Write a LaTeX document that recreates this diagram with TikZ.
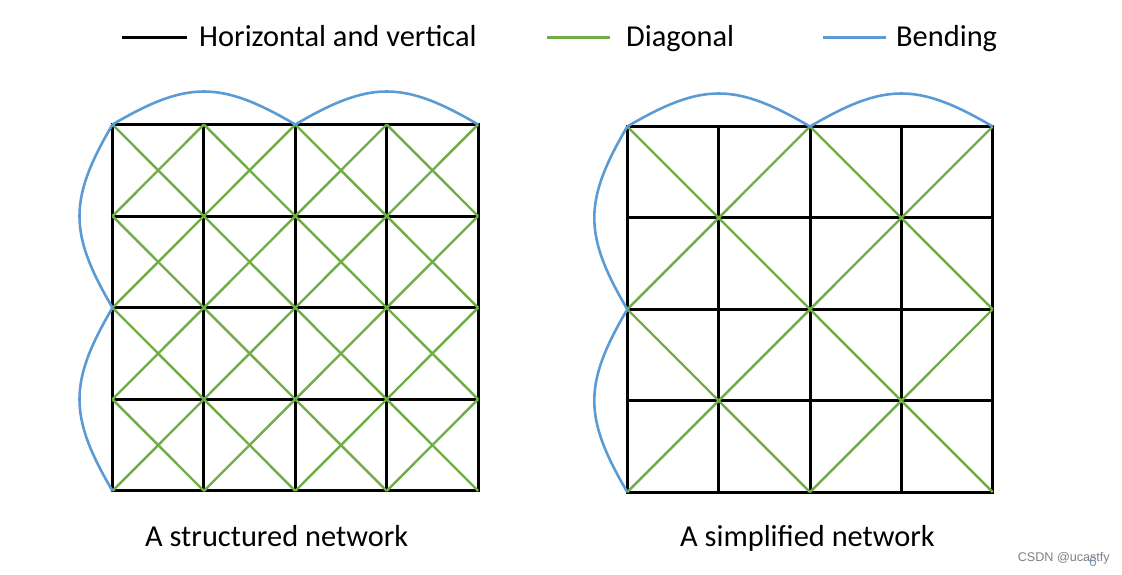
\documentclass[tikz,border=0pt]{standalone}
\usepackage{fontspec}
\setmainfont{Carlito}
\newfontfamily\marksans{Liberation Sans}
\usetikzlibrary{positioning}
\definecolor{diagreen}{HTML}{70AD47}
\definecolor{bendblue}{HTML}{5B9BD5}
\definecolor{markgray}{HTML}{7F7F7F}
\definecolor{pageblue}{HTML}{7A96BE}

\begin{document}
\begin{tikzpicture}[x=1pt,y=-1pt,
    hv/.style={draw=black,line width=3pt,line cap=rect},
    diag/.style={draw=diagreen,line width=2.4pt},
    bending/.style={draw=bendblue,line width=2.6pt},
    label text/.style={inner sep=0pt,anchor=base west,font=\fontsize{30.4}{36}\selectfont}]

\useasboundingbox (0,0) rectangle (1122,574);

% grid points of both networks
\foreach \i in {0,...,4}
  \foreach \j in {0,...,4} {
    \coordinate (l\i\j) at (112.5+91.4*\i,124.5+91.6*\j);
    \coordinate (r\i\j) at (627.3+91.35*\i,126.5+91.4*\j);
  }

% horizontal and vertical
\foreach \i in {0,...,4}
  \path[hv] (l\i0) edge (l\i4)
            (l0\i) edge (l4\i)
            (r\i0) edge (r\i4)
            (r0\i) edge (r4\i);

% diagonals, every cell on the left
\foreach \i/\k in {0/1,1/2,2/3,3/4}
  \foreach \j/\m in {0/1,1/2,2/3,3/4}
    \path[diag] (l\i\j) edge (l\k\m)
                (l\k\j) edge (l\i\m);

% diagonals, 2x2 blocks on the right
\foreach \i/\k in {0/2,2/4}
  \foreach \j/\m in {0/2,2/4}
    \path[diag] (r\i\j) edge (r\k\m)
                (r\k\j) edge (r\i\m);

% bending
\foreach \s in {l,r} {
  \draw[bending] (\s00) .. controls +(75,-44) and +(-75,-44) .. (\s20)
                        .. controls +(75,-44) and +(-75,-44) .. (\s40);
  \draw[bending] (\s00) .. controls +(-44,75) and +(-44,-75) .. (\s02)
                        .. controls +(-44,75) and +(-44,-75) .. (\s04);
}

% legend
\coordinate (hva) at (122,37);
\coordinate (hvb) at (187,37);
\coordinate (dga) at (547,37);
\coordinate (dgb) at (610,37);
\coordinate (bda) at (823,37);
\coordinate (bdb) at (886,37);
\path[hv,line cap=butt] (hva) edge (hvb);
\path[diag,line width=3pt] (dga) edge (dgb);
\path[bending,line width=3pt] (bda) edge (bdb);
\node[label text] (hvtext) at (199,46) {Horizontal and vertical};
\node[label text] (dgtext) at (626,46) {Diagonal};
\node[label text] (bdtext) at (896,46) {Bending};

% captions
\node[label text] (leftcap) at (145,546) {A structured network};
\node[label text] (rightcap) at (680,546) {A simplified network};

\node[anchor=base east,inner sep=0pt,text=markgray,font=\marksans\fontsize{12.6}{14}\selectfont] (mark) at (1110,561) {CSDN @ucastfy};
\node[anchor=base,inner sep=0pt,text=pageblue,font=\marksans\fontsize{14}{16}\selectfont] (page) at (1093,566) {6};

\end{tikzpicture}
\end{document}
